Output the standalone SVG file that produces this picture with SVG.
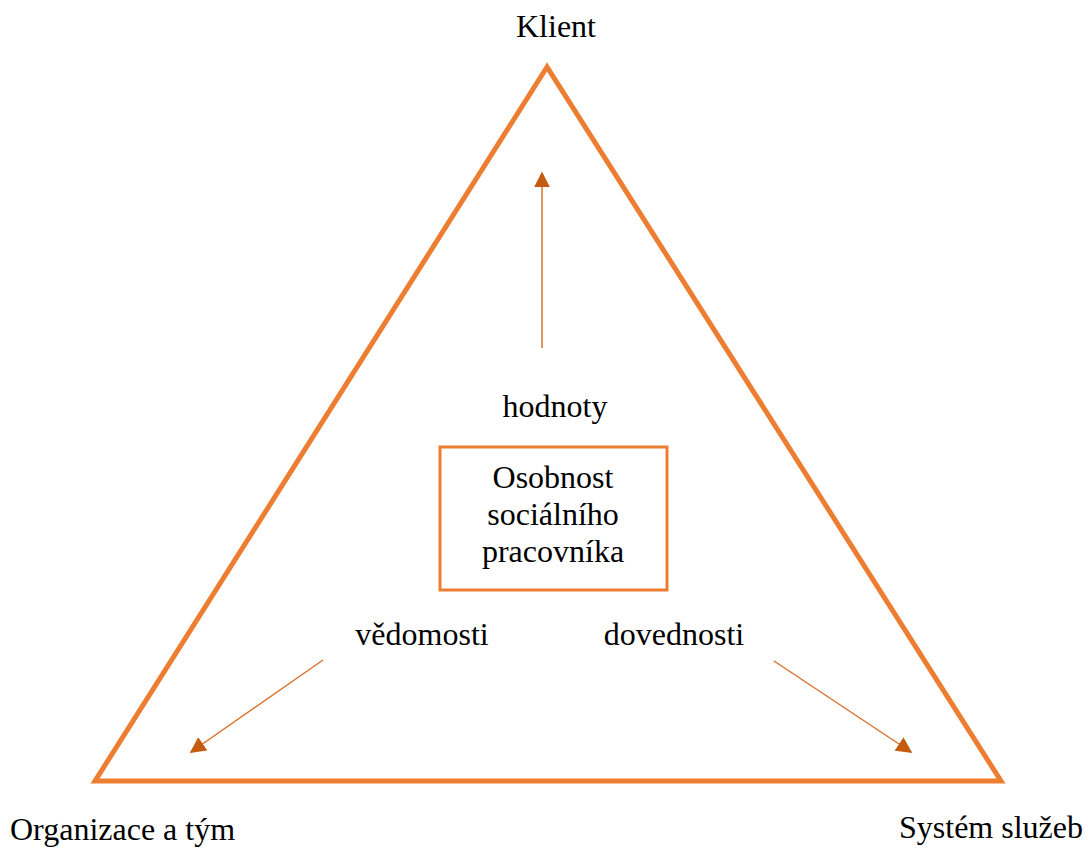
<svg xmlns="http://www.w3.org/2000/svg" width="1090" height="850" viewBox="0 0 1090 850">
<style>
text{font-family:"Liberation Serif","Times New Roman",serif;font-size:32px;fill:#000}
.mid{text-anchor:middle}
.tri{fill:none;stroke:#ED7D31;stroke-width:5;stroke-linejoin:miter}
.box{fill:#fff;stroke:#ED7D31;stroke-width:3}
.arr{stroke:#D9732E;stroke-width:1.5;fill:none;marker-end:url(#ah)}
</style>
<defs>
<marker id="ah" viewBox="0 0 10 10" refX="9" refY="5" markerWidth="16" markerHeight="16" markerUnits="userSpaceOnUse" orient="auto">
<path d="M0,0 L10,5 L0,10 Z" fill="#C55A11"/>
</marker>
</defs>
<g id="triangle">
<polygon class="tri" points="547,67 95,781 1001,781"/>
</g>
<g id="connectors">
<line class="arr" x1="542" y1="348" x2="542" y2="173"/>
<line class="arr" x1="323" y1="660" x2="191" y2="752"/>
<line class="arr" x1="774" y1="661" x2="911" y2="752"/>
</g>
<g id="klient"><text class="mid" x="556" y="37">Klient</text></g>
<g id="hodnoty"><text class="mid" x="555" y="417">hodnoty</text></g>
<g id="osobnost">
<rect class="box" x="440" y="447" width="227" height="143"/>
<text class="mid" x="553" y="488">Osobnost</text>
<text class="mid" x="553" y="525">sociálního</text>
<text class="mid" x="553" y="562">pracovníka</text>
</g>
<g id="vedomosti"><text class="mid" x="422" y="645">vědomosti</text></g>
<g id="dovednosti"><text class="mid" x="674" y="645">dovednosti</text></g>
<g id="organizace"><text x="10" y="840">Organizace a tým</text></g>
<g id="system"><text x="1083" y="838" text-anchor="end">Systém služeb</text></g>
</svg>
